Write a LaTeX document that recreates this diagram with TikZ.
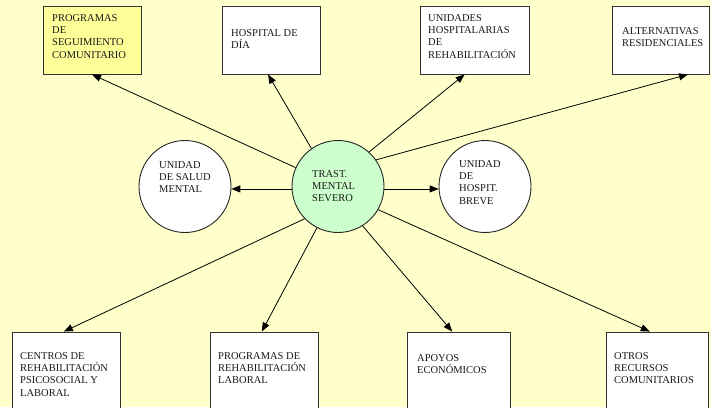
\documentclass[tikz,border=0pt]{standalone}
\usepackage{fontspec}
\setmainfont{Liberation Serif}
\usetikzlibrary{arrows.meta,calc}
\definecolor{bgyel}{HTML}{FFFFCC}
\definecolor{boxyel}{HTML}{FFFF99}
\definecolor{cgreen}{HTML}{CCFFCC}
\begin{document}
\begin{tikzpicture}[x=1pt,y=-1pt,
  box/.style={draw=black!80,line width=0.9pt,fill=white,rectangle,inner sep=0pt},
  circ/.style={draw=black!85,line width=0.9pt,fill=white,circle,inner sep=0pt,minimum size=92pt},
  lbl/.style={anchor=north west,inner sep=0pt,align=left,text=black!90,font=\fontsize{10.5}{12.3}\selectfont},
  conn/.style={line width=0.8pt,-{Triangle[length=9pt,width=7pt]}}]
\useasboundingbox (0,0) rectangle (711,407);
\clip (0,0) rectangle (711,407);
\fill[bgyel] (0,0) rectangle (711,407);
% top boxes
\node[box,fill=boxyel,minimum width=98pt,minimum height=68pt] (t1) at (92,40) {};
\node[box,minimum width=98pt,minimum height=68pt] (t2) at (271,40) {};
\node[box,minimum width=109pt,minimum height=68pt] (t3) at (474.5,40) {};
\node[box,minimum width=97pt,minimum height=68pt] (t4) at (660.5,40) {};
% bottom boxes
\node[box,minimum width=108pt,minimum height=88pt] (b1) at (66,376) {};
\node[box,minimum width=108pt,minimum height=88pt] (b2) at (264,376) {};
\node[box,minimum width=103pt,minimum height=88pt] (b3) at (458.5,376) {};
\node[box,minimum width=102pt,minimum height=88pt] (b4) at (657,376) {};
% circles
\node[circ] (l) at (185,186.5) {};
\node[circ,fill=cgreen] (c) at (338,186.5) {};
\node[circ] (r) at (485,186.5) {};
% labels
\node[lbl] (t1x) at (52,14) {PROGRAMAS\\DE\\SEGUIMIENTO\\COMUNITARIO};
\node[lbl] (t2x) at (231,29) {HOSPITAL DE\\DÍA};
\node[lbl] (t3x) at (428,14) {UNIDADES\\HOSPITALARIAS\\DE\\REHABILITACIÓN};
\node[lbl] (t4x) at (622,27) {ALTERNATIVAS\\RESIDENCIALES};
\node[lbl] (lx) at (159,161) {UNIDAD\\DE SALUD\\MENTAL};
\node[lbl] (cx) at (312,170) {TRAST.\\MENTAL\\SEVERO};
\node[lbl] (rx) at (459,160) {UNIDAD\\DE\\HOSPIT.\\BREVE};
\node[lbl] (b1x) at (20,352) {CENTROS DE\\REHABILITACIÓN\\PSICOSOCIAL Y\\LABORAL};
\node[lbl] (b2x) at (218,352) {PROGRAMAS DE\\REHABILITACIÓN\\LABORAL};
\node[lbl] (b3x) at (417,354) {APOYOS\\ECONÓMICOS};
\node[lbl] (b4x) at (614,352) {OTROS\\RECURSOS\\COMUNITARIOS};
% connectors
\draw[conn] (c.156) -- (t1.south);
\draw[conn] (c.125) -- ($(t2.south west)!0.47!(t2.south east)$);
\draw[conn] (c.48) -- ($(t3.south west)!0.41!(t3.south east)$);
\draw[conn] (c.35) -- ($(t4.south west)!0.78!(t4.south east)$);
\draw[conn] (c.183) -- (l.-3);
\draw[conn] (c.-3) -- (r.183);
\draw[conn] (c.224) -- ($(b1.north west)!0.48!(b1.north east)$);
\draw[conn] (c.243) -- ($(b2.north west)!0.48!(b2.north east)$);
\draw[conn] (c.-58) -- ($(b3.north west)!0.44!(b3.north east)$);
\draw[conn] (c.-30) -- ($(b4.north west)!0.43!(b4.north east)$);
\end{tikzpicture}
\end{document}
